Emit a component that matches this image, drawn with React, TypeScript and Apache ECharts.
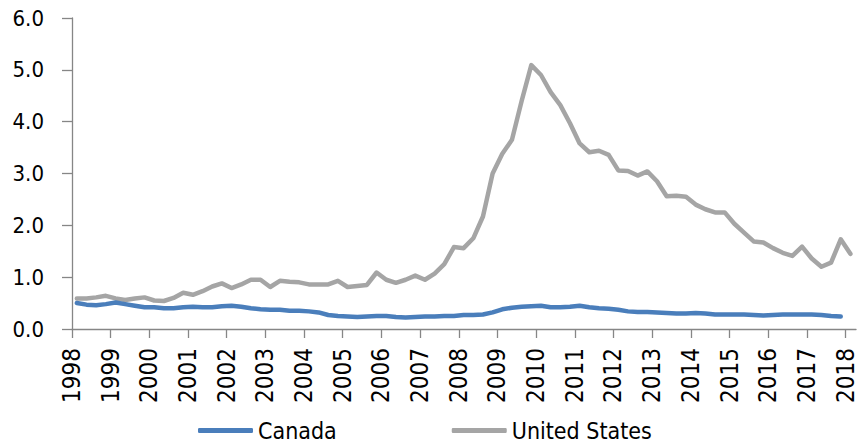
import React, { useEffect, useRef } from "react";
import * as echarts from "echarts";

// Quarterly observations, first quarter of 1998 onward
const startYear = 1998;
const yearTicks = [1998, 1999, 2000, 2001, 2002, 2003, 2004, 2005, 2006, 2007, 2008, 2009, 2010, 2011, 2012, 2013, 2014, 2015, 2016, 2017, 2018];
const yTicks = [0, 1, 2, 3, 4, 5, 6];

const canada = [
  0.50, 0.47, 0.46, 0.48, 0.51, 0.48, 0.45, 0.42, 0.42, 0.40,
  0.40, 0.42, 0.43, 0.42, 0.42, 0.44, 0.45, 0.43, 0.40, 0.38,
  0.37, 0.37, 0.35, 0.35, 0.34, 0.32, 0.27, 0.25, 0.24, 0.23,
  0.24, 0.25, 0.25, 0.23, 0.22, 0.23, 0.24, 0.24, 0.25, 0.25,
  0.27, 0.27, 0.28, 0.32, 0.38, 0.41, 0.43, 0.44, 0.45, 0.42,
  0.42, 0.43, 0.45, 0.42, 0.40, 0.39, 0.37, 0.34, 0.33, 0.33,
  0.32, 0.31, 0.30, 0.30, 0.31, 0.30, 0.28, 0.28, 0.28, 0.28,
  0.27, 0.26, 0.27, 0.28, 0.28, 0.28, 0.28, 0.27, 0.25, 0.24,
];

const unitedStates = [
  0.59, 0.59, 0.61, 0.64, 0.59, 0.56, 0.59, 0.61, 0.55, 0.54,
  0.60, 0.70, 0.66, 0.73, 0.82, 0.88, 0.79, 0.86, 0.95, 0.95,
  0.81, 0.93, 0.91, 0.90, 0.86, 0.86, 0.86, 0.93, 0.81, 0.83,
  0.85, 1.09, 0.95, 0.89, 0.95, 1.03, 0.95, 1.07, 1.25, 1.58,
  1.56, 1.75, 2.17, 3.00, 3.38, 3.65, 4.40, 5.09, 4.90, 4.57,
  4.32, 3.97, 3.58, 3.41, 3.44, 3.36, 3.06, 3.05, 2.96, 3.04,
  2.85, 2.56, 2.57, 2.55, 2.40, 2.31, 2.25, 2.25, 2.03, 1.86,
  1.69, 1.67, 1.56, 1.47, 1.41, 1.59, 1.36, 1.20, 1.28, 1.73,
  1.45,
];

const seriesNames = ["Canada", "United States"];
const colors = ["#4A7EBB", "#A5A5A5"];

// quarter midpoint as decimal year
const quarterX = (i: number) => startYear + (i + 0.5) / 4;
const toPairs = (vals: number[]) => vals.map((v, i) => [quarterX(i), v]);

const FONT = "'DejaVu Sans Condensed', 'Liberation Sans Narrow', sans-serif";
const AXIS = "#868686";

export default function App() {
  const ref = useRef<HTMLDivElement>(null);
  useEffect(() => {
    if (!ref.current) return;
    const chart = echarts.init(ref.current, undefined, { renderer: "svg" });
    chart.setOption({
      animation: false,
      backgroundColor: "#ffffff",
      textStyle: { fontFamily: FONT },
      grid: { left: 72, right: 7, top: 18, bottom: 118, containLabel: false },
      legend: {
        data: seriesNames,
        left: 193,
        top: 414,
        icon: "roundRect",
        itemWidth: 55,
        itemHeight: 5,
        itemGap: 115,
        textStyle: { fontFamily: FONT, fontSize: 23, color: "#000" },
      },
      xAxis: {
        type: "value",
        min: startYear,
        max: 2018.27,
        splitLine: { show: false },
        axisLine: { show: true, onZero: false, lineStyle: { color: AXIS, width: 1.3 } },
        axisTick: {
          show: true,
          inside: false,
          length: 9,
          customValues: yearTicks,
          lineStyle: { color: AXIS, width: 1.3 },
        },
        axisLabel: {
          customValues: yearTicks,
          rotate: 90,
          margin: 19,
          fontSize: 24,
          color: "#000",
          fontFamily: FONT,
          padding: [10, 0, 0, 0],
          formatter: (v: number) => String(Math.round(v)),
        },
      },
      yAxis: {
        type: "value",
        min: 0,
        max: 6,
        interval: 1,
        splitLine: { show: false },
        axisLine: { show: true, lineStyle: { color: AXIS, width: 1.3 } },
        axisTick: { show: true, inside: false, length: 10, lineStyle: { color: AXIS, width: 1.3 } },
        axisLabel: {
          margin: 28,
          fontSize: 22,
          color: "#000",
          fontFamily: FONT,
          padding: [11, 0, 0, 0],
          formatter: (v: number) => (yTicks.includes(v) ? v.toFixed(1) : ""),
        },
      },
      series: [
        {
          name: seriesNames[0],
          type: "line",
          data: toPairs(canada),
          showSymbol: false,
          symbol: "none",
          lineStyle: { color: colors[0], width: 4.5, cap: "round", join: "round" },
          itemStyle: { color: colors[0] },
          z: 3,
        },
        {
          name: seriesNames[1],
          type: "line",
          data: toPairs(unitedStates),
          showSymbol: false,
          symbol: "none",
          lineStyle: { color: colors[1], width: 4.5, cap: "round", join: "round" },
          itemStyle: { color: colors[1] },
          z: 2,
        },
      ],
    });
    return () => chart.dispose();
  }, []);
  return (
    <div
      ref={ref}
      style={{ position: "absolute", left: 0, top: 0, width: 863, height: 447, background: "#fff" }}
    />
  );
}
